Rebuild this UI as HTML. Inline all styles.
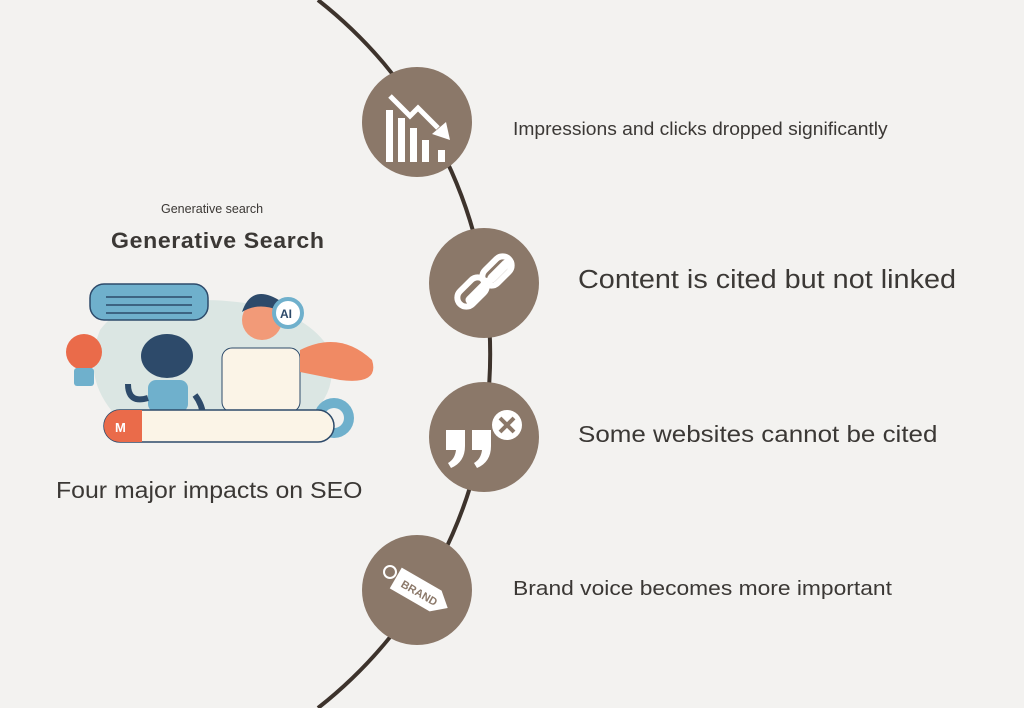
<!DOCTYPE html>
<html><head><meta charset="utf-8"><style>
html,body{margin:0;padding:0}
body{width:1024px;height:708px;background:#f3f2f0;position:relative;overflow:hidden;font-family:"Liberation Sans",sans-serif;color:#3b3835}
.t{position:absolute;white-space:nowrap;transform-origin:0 0}
</style></head><body>
<svg width="1024" height="708" style="position:absolute;left:0;top:0">
<path d="M318,0 A450,450 0 0 1 318,708" fill="none" stroke="#3d332c" stroke-width="4"/>
<g fill="#8b7869">
<circle cx="417" cy="122" r="55"/>
<circle cx="484" cy="283" r="55"/>
<circle cx="484" cy="437" r="55"/>
<circle cx="417" cy="590" r="55"/>
</g>
<g fill="#fff">
<rect x="386" y="110" width="7" height="52"/><rect x="398" y="118" width="7" height="44"/><rect x="410" y="128" width="7" height="34"/><rect x="422" y="140" width="7" height="22"/><rect x="438" y="150" width="7" height="12"/>
<polyline points="390,96 410,116 418,108 438,128" fill="none" stroke="#fff" stroke-width="5"/>
<polygon points="432,134 450,140 446,122"/>
</g>
<g fill="none" stroke="#fff" stroke-width="9" stroke-linecap="round">
<path d="M470,300 l18,-18"/><path d="M492,278 l14,-14"/>
</g>
<g fill="none" stroke="#fff" stroke-width="6">
<rect x="455" y="283" width="34" height="18" rx="9" transform="rotate(-45 472 292)"/>
<rect x="480" y="262" width="34" height="18" rx="9" transform="rotate(-45 497 271)"/>
</g>
<g fill="#fff">
<path d="M446,430 h19 v16 q0,16 -14,22 l-3,-5 q7,-4 8,-13 h-10z"/>
<path d="M472,430 h19 v16 q0,16 -14,22 l-3,-5 q7,-4 8,-13 h-10z"/>
<circle cx="507" cy="425" r="15"/>
</g>
<path d="M500,418 l14,14 M514,418 l-14,14" stroke="#8b7869" stroke-width="4"/>
<g transform="rotate(30 420 592)">
<polygon points="392,580 438,580 452,592 438,604 392,604" fill="#fff"/>
<text x="400" y="597" font-size="11" font-weight="bold" fill="#8b7869">BRAND</text>
</g>
<circle cx="390" cy="572" r="6" fill="none" stroke="#fff" stroke-width="2"/>
<path d="M100,330 Q130,290 200,300 Q300,300 330,350 Q340,400 300,420 L120,420 Q80,380 100,330Z" fill="#dbe6e3"/>
<rect x="90" y="284" width="118" height="36" rx="14" fill="#6fb0cc" stroke="#2d4a6a" stroke-width="1.5"/>
<path d="M106,297h86M106,305h86M106,313h86" stroke="#2d4a6a" stroke-width="1.5"/>
<circle cx="84" cy="352" r="18" fill="#ea6b4a"/>
<rect x="74" y="368" width="20" height="18" rx="3" fill="#6fb0cc"/>
<ellipse cx="167" cy="356" rx="26" ry="22" fill="#2d4a6a"/>
<rect x="148" y="380" width="40" height="32" rx="8" fill="#6fb0cc"/>
<path d="M128,384 q0,20 20,14 M195,395 q15,20 2,42" fill="none" stroke="#2d4a6a" stroke-width="6"/>
<rect x="222" y="348" width="78" height="64" rx="10" fill="#fbf4e7" stroke="#2d4a6a"/>
<circle cx="262" cy="320" r="20" fill="#f29a78"/>
<path d="M242,312 q10,-30 40,-10 l-4,8 q-20,-8 -36,2z" fill="#2d4a6a"/>
<circle cx="288" cy="313" r="14" fill="#fff" stroke="#6fb0cc" stroke-width="4"/>
<text x="280" y="318" font-size="12" font-weight="bold" fill="#2d4a6a">AI</text>
<path d="M300,350 Q340,330 372,360 Q380,385 340,380 L300,372Z" fill="#f08a64"/>
<circle cx="334" cy="418" r="20" fill="#6fb0cc"/><circle cx="334" cy="418" r="10" fill="#f3f2f0"/>
<rect x="104" y="410" width="230" height="32" rx="16" fill="#fbf4e7" stroke="#2d4a6a" stroke-width="1.5"/>
<path d="M120,410 h22 v32 h-22 a16,16 0 0 1 0,-32z" fill="#ea6b4a"/>
<text x="115" y="432" font-size="13" font-weight="bold" fill="#fff">M</text>
</svg>
<div class="t" style="left:161px;top:202px;font-size:12.5px">Generative search</div>
<div class="t" style="left:111px;top:228px;font-size:22px;font-weight:bold;letter-spacing:0.6px;transform:scaleX(1.05)">Generative Search</div>
<div class="t" style="left:56px;top:477px;font-size:23px;transform:scaleX(1.08)">Four major impacts on SEO</div>
<div class="t" style="left:513px;top:119px;font-size:18px;transform:scaleX(1.07)">Impressions and clicks dropped significantly</div>
<div class="t" style="left:578px;top:266px;font-size:25.5px;transform:scaleX(1.13)">Content is cited but not linked</div>
<div class="t" style="left:578px;top:421px;font-size:23.5px;transform:scaleX(1.105)">Some websites cannot be cited</div>
<div class="t" style="left:513px;top:578px;font-size:20px;transform:scaleX(1.14)">Brand voice becomes more important</div>
</body></html>
